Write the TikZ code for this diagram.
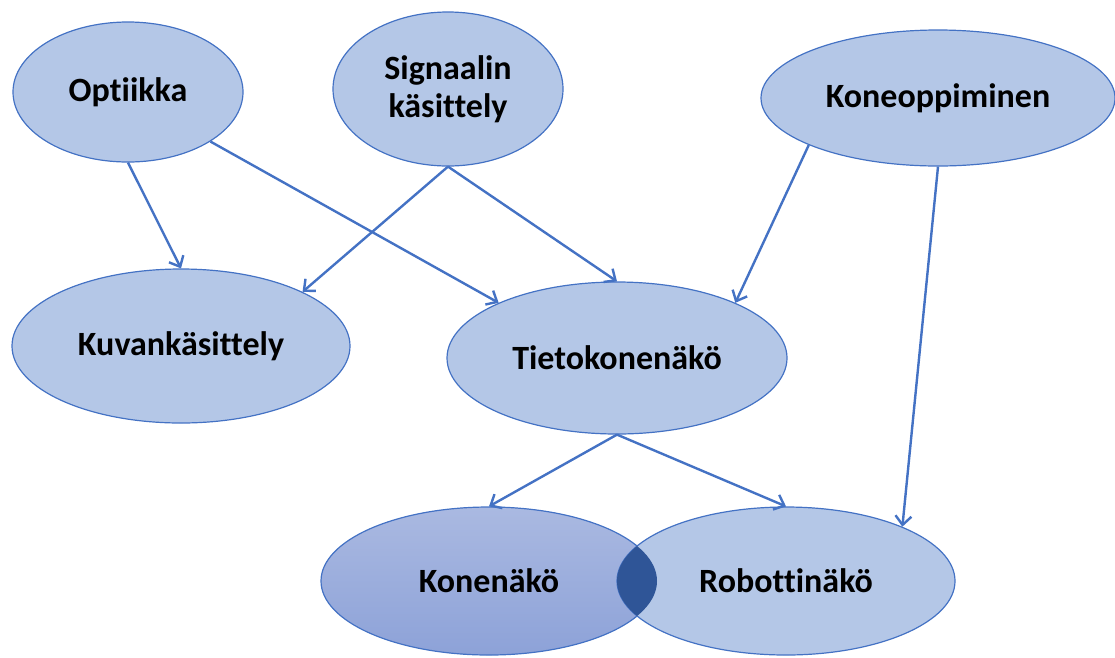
\documentclass[tikz,border=0pt]{standalone}
\usepackage{fontspec}
\setmainfont{Carlito}[Ligatures=NoCommon]
\usetikzlibrary{shapes.geometric,arrows.meta}
\definecolor{areafill}{HTML}{B4C7E7}
\definecolor{arealine}{HTML}{4472C4}
\definecolor{lensblue}{HTML}{2F5597}
\definecolor{konetop}{RGB}{170,185,225}
\definecolor{konebottom}{RGB}{141,162,216}

\begin{document}
\begin{tikzpicture}[x=1pt,y=-1pt,
		area/.style={ellipse,draw=arealine,line width=1.2pt,fill=areafill,inner sep=0pt,align=center,
			font=\fontsize{34}{38}\selectfont\bfseries},
		link/.style={draw=arealine,line width=2.4pt,-{Straight Barb[length=9pt,width=16pt]}}]
			\useasboundingbox (0,0) rectangle (1115,657);

			\node[area,minimum width=230pt,minimum height=140pt] (opt) at (128,92) {Optiikka};
			\node[area,minimum width=230pt,minimum height=154pt] (sig) at (448,89) {Signaalin\\käsittely};
			\node[area,minimum width=354pt,minimum height=136pt] (kone) at (938,98) {Koneoppiminen};
			\node[area,minimum width=338pt,minimum height=154pt] (kuva) at (181,346) {Kuvankäsittely};
			\node[area,minimum width=340pt,minimum height=152pt] (tieto) at (617,358) {Tietokonenäkö};
			\node[area,top color=konetop,bottom color=konebottom,minimum width=336pt,minimum height=148pt] (konen) at (489,581) {Konenäkö};
			\node[area,minimum width=338pt,minimum height=148pt] (robo) at (786,581) {Robottinäkö};

			\begin{scope}
				\clip (konen.center) ellipse [x radius=168pt,y radius=74pt];
				\fill[lensblue] (robo.center) ellipse [x radius=169pt,y radius=74pt];
			\end{scope}

			\draw[link] (opt.south) -- (kuva.north);
			\draw[link] (opt.-31) -- (tieto.155);
			\draw[link] (sig.south) -- (kuva.24);
			\draw[link] (sig.south) -- (tieto.north);
			\draw[link] (kone.200) -- (tieto.25);
			\draw[link] (kone.south) -- (robo.25);
			\draw[link] (tieto.south) -- (konen.north);
			\draw[link] (tieto.south) -- (robo.north);
		\end{tikzpicture}
\end{document}
